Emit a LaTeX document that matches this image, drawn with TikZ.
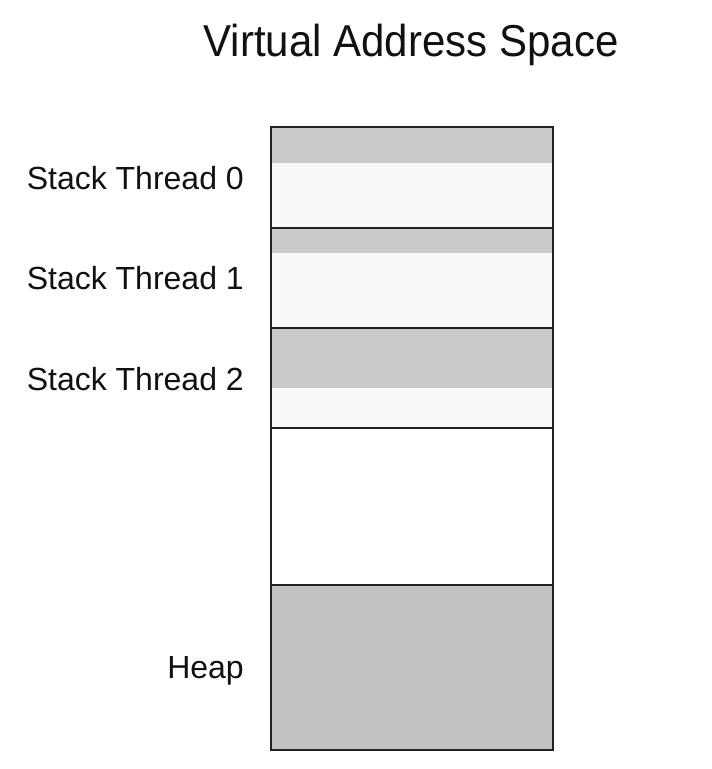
\documentclass[tikz,border=0pt]{standalone}
\usepackage{fontspec}
\setmainfont{Liberation Sans}
\usepackage{graphicx}
\definecolor{bandgray}{HTML}{C9C9C9}
\definecolor{lightfill}{HTML}{F8F8F8}
\definecolor{heapgray}{HTML}{C2C2C2}
\definecolor{edge}{HTML}{222222}
\definecolor{ink}{HTML}{111111}
\tikzset{
  lbl/.style={anchor=base east, inner sep=0pt, text=ink, font=\fontsize{32}{36}\selectfont},
  ttl/.style={anchor=base, inner sep=0pt, text=ink, font=\fontsize{44.7}{50}\selectfont},
  segline/.style={draw=edge, line width=2.2pt},
}
\begin{document}
\begin{tikzpicture}[x=1pt,y=-1pt]
\useasboundingbox (0,0) rectangle (712,769);
\fill[white] (0,0) rectangle (712,769);
% title
\node[ttl] (title) at (411,56) {\scalebox{0.94}[1]{Virtual Address Space}};
% fills
\fill[bandgray]  (271,127) rectangle (553,163);
\fill[lightfill] (271,163) rectangle (553,228);
\fill[bandgray]  (271,228) rectangle (553,253);
\fill[lightfill] (271,253) rectangle (553,328);
\fill[bandgray]  (271,328) rectangle (553,388);
\fill[lightfill] (271,388) rectangle (553,428);
\fill[white]     (271,428) rectangle (553,585);
\fill[heapgray]  (271,585) rectangle (553,750);
% outlines
\draw[segline] (271,127) rectangle (553,750);
\draw[segline] (271,228) -- (553,228);
\draw[segline] (271,328) -- (553,328);
\draw[segline] (271,428) -- (553,428);
\draw[segline] (271,585) -- (553,585);
% labels
\node[lbl] (s0) at (244,189) {Stack Thread 0};
\node[lbl] (s1) at (244,289) {Stack Thread 1};
\node[lbl] (s2) at (244,390) {Stack Thread 2};
\node[lbl] (heap) at (244,678) {Heap};
\end{tikzpicture}
\end{document}
